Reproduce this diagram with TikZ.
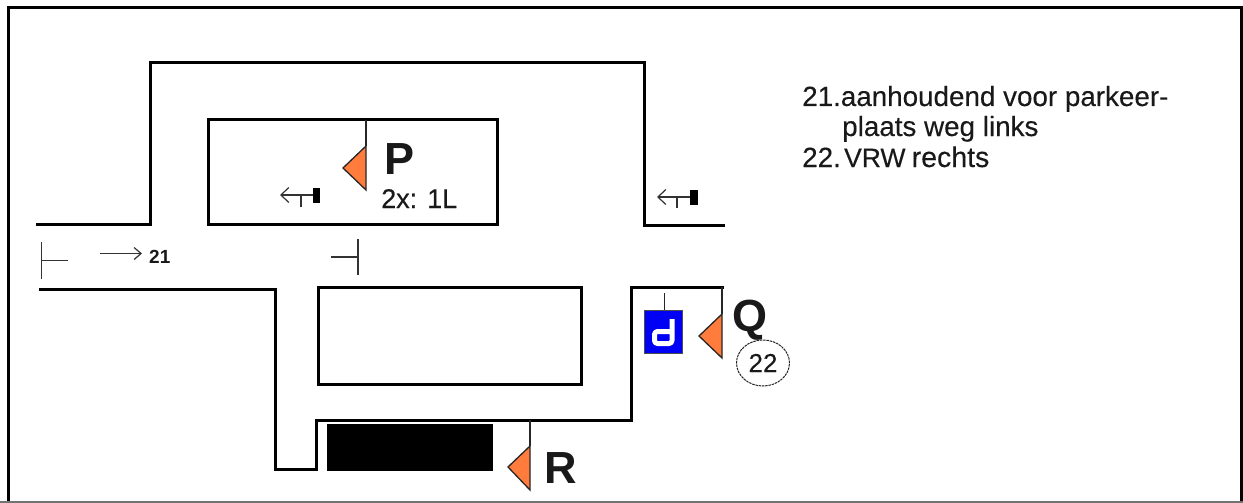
\documentclass[tikz,border=0pt]{standalone}
\usepackage{fontspec}
\setmainfont{Liberation Sans}
\newfontfamily\semibold[FakeBold=0.25]{Liberation Sans}
\usetikzlibrary{arrows.meta,shapes.geometric}
\definecolor{flagorange}{RGB}{255,124,60}
\definecolor{signblue}{RGB}{0,0,245}
\tikzset{
  x=1pt,y=-1pt,
  road/.style={draw=black,line width=3pt,line cap=butt,line join=miter},
  thin line/.style={draw=black!85,line width=1.5pt},
  flag/.style={draw=black!85,line width=1.3pt,fill=flagorange,line join=miter},
  sym/.style={draw=black!80,line width=1.2pt},
  txt/.style={inner sep=0pt,anchor=base west,text=black!90},
  bigletter/.style={txt,font=\bfseries\fontsize{45}{45}\selectfont},
  note/.style={txt,font=\semibold\fontsize{27.8}{27.8}\selectfont},
  smalltxt/.style={txt,font=\semibold\fontsize{27}{27}\selectfont},
}
\begin{document}
\begin{tikzpicture}
\useasboundingbox (0,0) rectangle (1243,503);
\fill[white] (0,0) rectangle (1243,503);
% frame
\draw[black,line width=3pt] (8.5,501) -- (8.5,8) -- (1241.5,8) -- (1241.5,501);
\draw[black!55,line width=1.5pt] (0,502) -- (1243,502);
% roads
\draw[road] (36,224) -- (150,224) -- (150,63) -- (644,63) -- (644,225) -- (725,225);
\draw[road] (208.5,119) rectangle (497,224);
\draw[road] (39,289) -- (275,289) -- (275,469) -- (316,469) -- (316,420) -- (631.5,420) -- (631.5,287) -- (724,287);
\draw[road] (318,287) rectangle (581,384);
% black block
\node[fill=black,draw=none,inner sep=0pt,minimum width=166pt,minimum height=47pt,anchor=north west] (block) at (326.5,424) {};
% flag P
\coordinate (pt) at (366,120);
\coordinate (pa) at (366,146);
\coordinate (pb) at (366,190);
\coordinate (pc) at (343,168);
\draw[thin line] (pt) -- (pa);
\draw[flag] (pa) -- (pb) -- (pc) -- cycle;
\node[bigletter] (P) at (384,174) {P};
\node[smalltxt] (px) at (381,208) {2x: 1L};
% flag Q
\coordinate (qt) at (722,287);
\coordinate (qa) at (722,314);
\coordinate (qb) at (722,358);
\coordinate (qc) at (699,336);
\draw[thin line] (qt) -- (qa);
\draw[flag] (qa) -- (qb) -- (qc) -- cycle;
\node[bigletter] (Q) at (732,331) {Q};
\node[draw=black!85,dash pattern=on 2.5pt off .8pt,line width=1pt,ellipse,minimum width=53pt,minimum height=46pt,inner sep=0pt,font=\semibold\fontsize{26}{26}\selectfont,text=black!90] (c22) at (763,363) {22};
% flag R
\coordinate (rt) at (530,420);
\coordinate (ra) at (530,446);
\coordinate (rb) at (530,490);
\coordinate (rc) at (508,467);
\draw[thin line] (rt) -- (ra);
\draw[flag] (ra) -- (rb) -- (rc) -- cycle;
\node[bigletter] (R) at (544,483) {R};
% blue sign
\node[fill=signblue,draw=black!70,line width=1pt,minimum width=38pt,minimum height=43pt,inner sep=0pt] (sign) at (663.5,332) {};
\coordinate (st) at (664.5,293);
\draw[thin line] (st) -- (sign.north -| st);
\draw[white,line width=5pt,line join=round,rounded corners=3pt] (672,319) -- (672,343.5) -- (654.5,343.5) -- (654.5,331.5) -- (672,331.5);
% left-arrow signals
\draw[sym,-{Straight Barb[length=8pt,width=15pt]}] (316,195) -- (280,195);
\draw[sym] (301,195) -- (301,207);
\node[fill=black,inner sep=0pt,minimum width=7pt,minimum height=15pt] (bar1) at (316.5,195) {};
\draw[sym,-{Straight Barb[length=8pt,width=15pt]}] (692,197) -- (657,197);
\draw[sym] (677,197) -- (677,208);
\node[fill=black,inner sep=0pt,minimum width=8pt,minimum height=15pt] (bar2) at (694,197) {};
% section marks
\draw[sym] (41.5,242) -- (41.5,279);
\draw[sym] (41.5,260.5) -- (68,260.5);
\draw[sym] (358,239) -- (358,275);
\draw[sym] (331,257) -- (358,257);
% arrow 21
\coordinate (a1) at (100,253.5);
\node[txt,font=\bfseries\fontsize{19}{19}\selectfont] (n21) at (149,263) {21};
\draw[sym,-{Straight Barb[length=7pt,width=12pt]}] (a1) -- (142,253.5);
% notes
\node[note] (l1) at (802,106) {21.aanhoudend voor parkeer-};
\node[note] (l2) at (842,136) {plaats weg links};
\node[note] (l3) at (802,167) {22.\hspace{-7pt} {\fontsize{26.5}{26.5}\selectfont VRW}\hspace{-1.5pt} {\fontsize{28.5}{28.5}\selectfont rechts}};
\end{tikzpicture}
\end{document}
